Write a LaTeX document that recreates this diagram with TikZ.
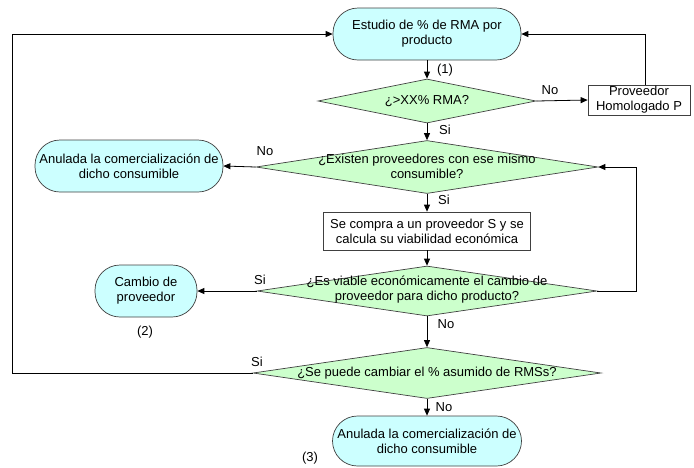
\documentclass[tikz,border=0pt]{standalone}
\usepackage{fontspec}
\setmainfont{Liberation Sans}
\usetikzlibrary{shapes.geometric,arrows.meta}
\definecolor{cyanfill}{HTML}{CCFFFF}
\definecolor{greenfill}{HTML}{CCFFCC}
\definecolor{edgecol}{HTML}{404040}
\begin{document}
\begin{tikzpicture}[x=1pt,y=-1pt,
  every node/.style={font=\fontsize{13}{15}\selectfont},
  stadium/.style={draw=edgecol, fill=cyanfill, rounded corners=25pt, align=center, inner sep=0pt, line width=0.7pt},
  procbox/.style={draw=edgecol, fill=white, align=center, inner sep=0pt, line width=0.7pt},
  dia/.style={diamond, draw=edgecol, fill=greenfill, inner sep=0pt, line width=0.7pt},
  txt/.style={align=center, inner sep=0pt},
  lbl/.style={inner sep=0pt},
  arr/.style={-{Triangle[length=7pt,width=6pt]}, line width=0.8pt},
  conn/.style={line width=0.8pt}]
\useasboundingbox (0,0) rectangle (694,467);

% nodes
\node[stadium, minimum width=188pt, minimum height=52pt] (start) at (427,34) {Estudio de \% de RMA por\\producto};
\node[dia, minimum width=218pt, minimum height=44pt] (d1) at (427,101) {};
\node[txt] (d1t) at (427,101) {¿>XX\% RMA?};
\node[procbox, minimum width=102pt, minimum height=30pt] (prov) at (639,100) {Proveedor\\Homologado P};

\node[dia, minimum width=342pt, minimum height=53pt] (d2) at (427,167) {};
\node[txt] (d2t) at (427,166) {¿Existen proveedores con ese mismo\\consumible?};
\node[stadium, minimum width=188pt, minimum height=52pt] (an1) at (129,166) {Anulada la comercialización de\\dicho consumible};

\node[procbox, minimum width=207pt, minimum height=38pt] (buy) at (427,231) {Se compra a un proveedor S y se\\calcula su viabilidad económica};

\node[dia, minimum width=340pt, minimum height=50pt] (d3) at (427,291) {};
\node[txt] (d3t) at (427,290) {¿Es viable económicamente el cambio de\\proveedor para dicho producto?};
\node[stadium, minimum width=102pt, minimum height=52pt] (camb) at (146,291) {Cambio de\\proveedor};

\node[dia, minimum width=348pt, minimum height=51pt] (d4) at (427,373) {};
\node[txt] (d4t) at (427,373) {¿Se puede cambiar el \% asumido de RMSs?};
\node[stadium, minimum width=189pt, minimum height=50pt] (end) at (427,441) {Anulada la comercialización de\\dicho consumible};

% labels
\node[lbl] (l1) at (445,70) {(1)};
\node[lbl] (lno1) at (550,90) {No};
\node[lbl] (lsi1) at (445,130) {Si};
\node[lbl] (lno2) at (265,151) {No};
\node[lbl] (lsi2) at (444,200) {Si};
\node[lbl] (lsi3) at (260,280) {Si};
\node[lbl] (l2) at (145,332) {(2)};
\node[lbl] (lno3) at (446,324) {No};
\node[lbl] (lsi4) at (257,362) {Si};
\node[lbl] (lno4) at (444,407) {No};
\node[lbl] (l3) at (310,458) {(3)};

\coordinate (leftrail) at (12,0);
\coordinate (rightrail) at (636,0);

% connectors
\draw[arr] (start.south) -- (d1.north);
\draw[arr] (d1.east) -- (prov.west);
\draw[arr] ([xshift=6pt]prov.north) |- (start.east);
\draw[arr] (d1.south) -- (d2.north);
\draw[arr] (d2.west) -- (an1.east);
\draw[arr] (d2.south) -- (buy.north);
\draw[arr] (buy.south) -- (d3.north);
\draw[arr] (d3.west) -- (camb.east);
\draw[arr] (d3.east) -- (d3.east -| rightrail) |- (d2.east);
\draw[arr] (d3.south) -- (d4.north);
\draw[arr] (d4.west) -- (d4.west -| leftrail) |- (start.west);
\draw[arr] (d4.south) -- (end.north);
\end{tikzpicture}
\end{document}
